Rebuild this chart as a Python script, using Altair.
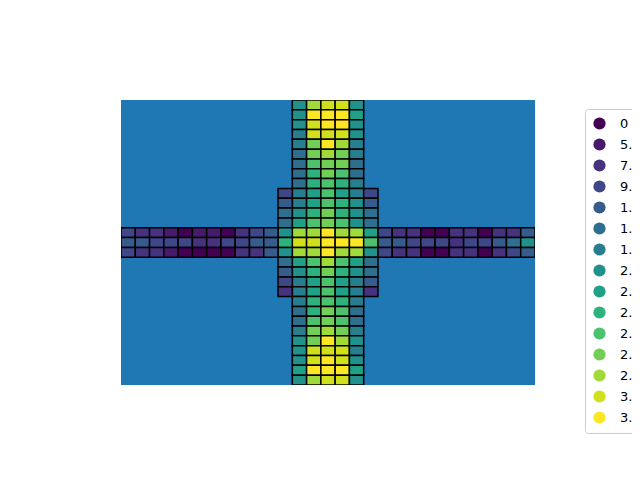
import altair as alt
import pandas as pd

# colour level (0..14) of each cell
# vertical band: columns 12..16, rows 0..28 (top to bottom)
vertical_rows = [
    [7, 12, 13, 13, 7],
    [7, 14, 14, 14, 8],
    [7, 13, 14, 14, 7],
    [6, 13, 13, 13, 7],
    [6, 11, 14, 12, 6],
    [5, 11, 12, 11, 6],
    [5, 10, 11, 11, 5],
    [5, 9, 11, 10, 5],
    [5, 9, 10, 9, 6],
    [6, 8, 10, 8, 6],
    [6, 8, 10, 9, 7],
    [7, 9, 11, 9, 7],
    [8, 10, 11, 10, 7],
    [12, 12, 14, 12, 12],
    [13, 13, 14, 14, 14],
    [12, 12, 14, 12, 12],
    [8, 10, 12, 10, 8],
    [7, 9, 11, 9, 7],
    [6, 8, 10, 8, 6],
    [6, 8, 10, 8, 6],
    [6, 9, 10, 9, 6],
    [5, 9, 11, 10, 5],
    [5, 10, 11, 10, 5],
    [6, 11, 12, 11, 6],
    [7, 11, 14, 12, 7],
    [7, 13, 13, 13, 6],
    [7, 13, 14, 13, 7],
    [8, 14, 14, 14, 8],
    [7, 12, 13, 13, 7],
]
# side columns 11 and 17, rows 9..19
side_left = [3, 4, 5, 5, 7, 9, 7, 5, 4, 3, 2]
side_right = [3, 4, 5, 5, 8, 10, 7, 5, 5, 4, 2]
# horizontal arms, rows 13..15; left = columns 0..10, right = columns 18..28
left_arm = [
    [3, 2, 2, 1, 0, 1, 1, 0, 2, 3, 4],
    [4, 4, 3, 3, 3, 2, 2, 3, 3, 4, 4],
    [3, 2, 2, 1, 0, 0, 0, 0, 2, 2, 4],
]
right_arm = [
    [3, 2, 2, 0, 0, 2, 2, 0, 2, 2, 4],
    [4, 4, 3, 3, 3, 2, 3, 3, 4, 5, 7],
    [3, 2, 2, 0, 0, 2, 2, 0, 2, 3, 4],
]
level_labels = ["0", "5.", "7.", "9.", "1.", "1.", "1.", "2.", "2.",
                "2.", "2.", "2.", "2.", "3.", "3."]
# viridis sampled at 15 evenly spaced points
level_colors = ["#440154", "#481a6c", "#46327e", "#3f4788", "#365c8d",
                "#2e6e8e", "#277e8e", "#21918c", "#1fa187", "#2eb27d",
                "#4cc26c", "#72cf56", "#a0da39", "#d0e11c", "#fde725"]

records = []
for r, row in enumerate(vertical_rows):
    for j, lv in enumerate(row):
        records.append({"col": 12 + j, "row": r, "level": lv})
for k, lv in enumerate(side_left):
    records.append({"col": 11, "row": 9 + k, "level": lv})
for k, lv in enumerate(side_right):
    records.append({"col": 17, "row": 9 + k, "level": lv})
for i, row in enumerate(left_arm):
    for j, lv in enumerate(row):
        records.append({"col": j, "row": 13 + i, "level": lv})
for i, row in enumerate(right_arm):
    for j, lv in enumerate(row):
        records.append({"col": 18 + j, "row": 13 + i, "level": lv})

df = pd.DataFrame(records)
df["col2"] = df["col"] + 1
df["row2"] = df["row"] + 1

label_expr = "[" + ",".join("'" + s + "'" for s in level_labels) + "][datum.value]"

chart = alt.Chart(df).mark_rect(stroke="black", strokeWidth=1.5, clip=True).encode(
    x=alt.X("col:Q", scale=alt.Scale(domain=[0, 29], nice=False, zero=False), axis=None),
    x2="col2:Q",
    y=alt.Y("row:Q", scale=alt.Scale(domain=[0, 29], nice=False, zero=False, reverse=True), axis=None),
    y2="row2:Q",
    color=alt.Color(
        "level:O",
        scale=alt.Scale(domain=list(range(15)), range=level_colors),
        legend=alt.Legend(
            title=None,
            orient="none",
            legendX=464,
            legendY=9,
            direction="vertical",
            symbolType="circle",
            symbolSize=150,
            symbolStrokeWidth=0,
            symbolOpacity=1,
            labelFontSize=13,
            labelFont="DejaVu Sans",
            labelColor="black",
            labelOffset=14,
            rowPadding=7,
            padding=8,
            strokeColor="#cccccc",
            fillColor="white",
            cornerRadius=3,
            labelExpr=label_expr,
        ),
    ),
).properties(
    width=414,
    height=285,
    autosize=alt.AutoSizeParams(type="none"),
    padding={"left": 113, "top": 92, "right": 97, "bottom": 60},
).configure_view(fill="#1f77b4", strokeWidth=0)

chart.save("out.html", embed_options={"renderer": "svg", "actions": False})
